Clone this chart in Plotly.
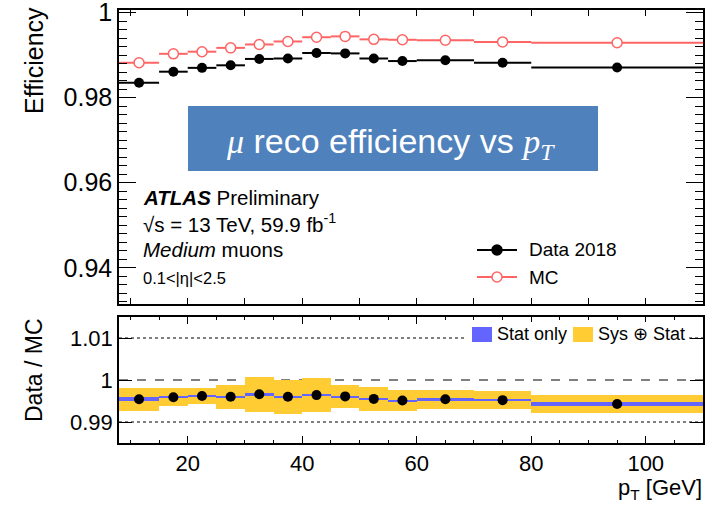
import plotly.graph_objects as go

# ---------------- data ----------------
bin_edges = [8, 15, 20, 25, 30, 35, 40, 45, 50, 55, 60, 70, 80, 110]
bin_centers = [11.5, 17.5, 22.5, 27.5, 32.5, 37.5, 42.5, 47.5, 52.5, 57.5, 65, 75, 95]
eff_data = [0.9835, 0.9861, 0.9870, 0.9876, 0.9891, 0.9892, 0.9905, 0.9904,
            0.9892, 0.9886, 0.9888, 0.9882, 0.9871]
eff_mc = [0.9882, 0.9903, 0.9908, 0.9917, 0.9925, 0.9932, 0.9942, 0.9944,
          0.9937, 0.9936, 0.9935, 0.9931, 0.9929]
ratio = [0.9954, 0.9959, 0.9962, 0.9960, 0.9966, 0.9960, 0.9964, 0.9961,
         0.9955, 0.9951, 0.9954, 0.9952, 0.9943]
ratio_stat = [0.0005, 0.0003, 0.0002, 0.0002, 0.0002, 0.0002, 0.0002, 0.0002,
              0.0002, 0.0002, 0.0002, 0.0003, 0.0004]
ratio_sys_stat = [0.0028, 0.0021, 0.0018, 0.0029, 0.0041, 0.0040, 0.0041, 0.0027,
                  0.0028, 0.0025, 0.0022, 0.0022, 0.0022]
top_yticks = [0.94, 0.96, 0.98, 1.0]
top_yticktext = ["0.94", "0.96", "0.98", "1"]
bot_yticks = [0.99, 1.0, 1.01]
bot_yticktext = ["0.99", "1", "1.01"]

half_w = [(bin_edges[i + 1] - bin_edges[i]) / 2 for i in range(len(bin_centers))]
widths = [2 * h for h in half_w]

RED = "#ff6464"
BLUE = "#6464ff"
YELLOW = "#ffcc33"
FONT = "Liberation Sans"

W, H = 712, 508
# plot frame in page pixels: x 119..703, y 10..443
ML, MR, MT, MB = 119, W - 703, 10, H - 443
PW = W - ML - MR
PH = H - MT - MB


def px(x):  # page pixel -> paper
    return (x - ML) / PW


def py(y):
    return (H - MB - y) / PH


fig = go.Figure()

# ratio bands
fig.add_trace(go.Bar(
    x=bin_centers, width=widths,
    base=[r - s for r, s in zip(ratio, ratio_sys_stat)],
    y=[2 * s for s in ratio_sys_stat],
    marker=dict(color=YELLOW, line=dict(width=0)),
    xaxis="x", yaxis="y", showlegend=False, hoverinfo="skip"))
fig.add_trace(go.Bar(
    x=bin_centers, width=widths,
    base=[r - s for r, s in zip(ratio, ratio_stat)],
    y=[2 * s for s in ratio_stat],
    marker=dict(color=BLUE, line=dict(width=0)),
    xaxis="x", yaxis="y", showlegend=False, hoverinfo="skip"))
fig.add_trace(go.Scatter(
    x=bin_centers, y=ratio, mode="markers",
    marker=dict(color="black", size=10),
    xaxis="x", yaxis="y", showlegend=False))

# top panel
fig.add_trace(go.Scatter(
    x=bin_centers, y=eff_mc, mode="markers",
    marker=dict(color="white", size=10, symbol="circle",
                line=dict(color=RED, width=1.5)),
    error_x=dict(type="data", array=half_w, width=0, thickness=2, color=RED),
    xaxis="x2", yaxis="y2", showlegend=False))
fig.add_trace(go.Scatter(
    x=bin_centers, y=eff_data, mode="markers",
    marker=dict(color="black", size=10),
    error_x=dict(type="data", array=half_w, width=0, thickness=2, color="black"),
    xaxis="x2", yaxis="y2", showlegend=False))

axis_common = dict(showline=True, linecolor="black", linewidth=1.5, mirror="allticks",
                   ticks="inside", tickcolor="black", showgrid=False, zeroline=False,
                   automargin=False, ticklabeloverflow="allow")

top_dom0 = py(304)
bot_dom1 = py(317)

fig.update_layout(
    width=W, height=H,
    margin=dict(l=ML, r=MR, t=MT, b=MB, autoexpand=False),
    paper_bgcolor="white", plot_bgcolor="white",
    barmode="overlay", bargap=0,
    font=dict(family=FONT, color="black"),
    xaxis=dict(domain=[0, 1], anchor="y", range=[8, 110],
               tickmode="linear", tick0=0, dtick=20, ticklen=7,
               minor=dict(tick0=0, dtick=5, ticklen=3, ticks="inside", tickcolor="black"),
               tickfont=dict(size=22, family=FONT), **axis_common),
    yaxis=dict(domain=[0, bot_dom1], anchor="x", range=[0.985, 1.015],
               tickvals=bot_yticks, ticktext=bot_yticktext, ticklen=13,
               tickfont=dict(size=22, family=FONT), **axis_common),
    xaxis2=dict(domain=[0, 1], anchor="y2", range=[8, 110], matches="x",
                tickmode="linear", tick0=0, dtick=10, ticklen=6,
                showticklabels=False, **axis_common),
    yaxis2=dict(domain=[top_dom0, 1], anchor="x2", range=[0.9315, 1.0006],
                tickvals=top_yticks, ticktext=top_yticktext, ticklen=17,
                minor=dict(tick0=0.94, dtick=0.002, ticklen=8, ticks="inside", tickcolor="black"),
                tickfont=dict(size=25, family=FONT), **axis_common),
)

shapes = []
# reference lines in ratio panel
shapes.append(dict(type="line", xref="x domain", yref="y", x0=0, x1=1, y0=1.0, y1=1.0,
                   line=dict(color="black", width=1, dash="dash"), layer="below"))
for v in (0.99, 1.01):
    shapes.append(dict(type="line", xref="x domain", yref="y", x0=0, x1=1, y0=v, y1=v,
                       line=dict(color="black", width=1, dash="dot"), layer="below"))
# ratio legend
shapes.append(dict(type="rect", xref="paper", yref="paper",
                   x0=px(465), x1=px(688), y0=py(346), y1=py(322),
                   fillcolor="white", line=dict(width=0), layer="above"))
shapes.append(dict(type="rect", xref="paper", yref="paper",
                   x0=px(472), x1=px(492), y0=py(342), y1=py(327),
                   fillcolor=BLUE, line=dict(width=0), layer="above"))
shapes.append(dict(type="rect", xref="paper", yref="paper",
                   x0=px(573), x1=px(593), y0=py(342), y1=py(327),
                   fillcolor=YELLOW, line=dict(width=0), layer="above"))
# blue title box
shapes.append(dict(type="rect", xref="paper", yref="paper",
                   x0=px(188), x1=px(598), y0=py(171), y1=py(106),
                   fillcolor="#4f81bd", line=dict(width=0), layer="above"))
# top legend glyphs
for yy, col, fill in ((250, "black", "black"), (277, RED, "white")):
    shapes.append(dict(type="line", xref="paper", yref="paper",
                       x0=px(477), x1=px(517), y0=py(yy), y1=py(yy),
                       line=dict(color=col, width=2), layer="above"))
    shapes.append(dict(type="circle", xref="paper", yref="paper",
                       xsizemode="pixel", ysizemode="pixel",
                       xanchor=px(497), yanchor=py(yy), x0=-5, x1=5, y0=-5, y1=5,
                       fillcolor=fill, line=dict(color=col, width=1.5), layer="above"))
fig.update_layout(shapes=shapes)

ann = []


def add_text(text, x, y, size, xanchor="left", yanchor="middle", angle=0, color="black"):
    ann.append(dict(text=text, xref="paper", yref="paper", x=px(x), y=py(y),
                    xanchor=xanchor, yanchor=yanchor, showarrow=False, textangle=angle,
                    font=dict(size=size, family=FONT, color=color)))


add_text("Efficiency", 34, 61, 25, xanchor="center", angle=-90)
add_text("Data / MC", 34, 370, 23, xanchor="center", angle=-90)
add_text("p<sub>T</sub> [GeV]", 704, 489, 22, xanchor="right")
add_text("<b><i>ATLAS</i></b> Preliminary", 141, 197, 20.5)
add_text("√s = 13 TeV, 59.9 fb<sup>-1</sup>", 141, 223, 20.5)
add_text("<i>Medium</i> muons", 141, 250, 20.5)
add_text("0.1&lt;|η|&lt;2.5", 141, 278, 16.5)
add_text("Data 2018", 527, 250, 19)
add_text("MC", 527, 277, 19)
add_text("Stat only", 495, 334, 18)
add_text("Sys ⊕ Stat", 596, 334, 18)
add_text("<span style=\"font-family:'Liberation Serif'\"><i>μ</i></span> reco efficiency vs "
         "<span style=\"font-family:'Liberation Serif'\"><i>p<sub>T</sub></i></span>",
         390, 143, 34, xanchor="center", color="white")
fig.update_layout(annotations=ann)

# remove the default 8px page margin so the figure fills the window exactly
fig.write_html("out.html",
               config={"displayModeBar": False},
               post_script="document.body.style.margin='0';document.body.style.padding='0';")
